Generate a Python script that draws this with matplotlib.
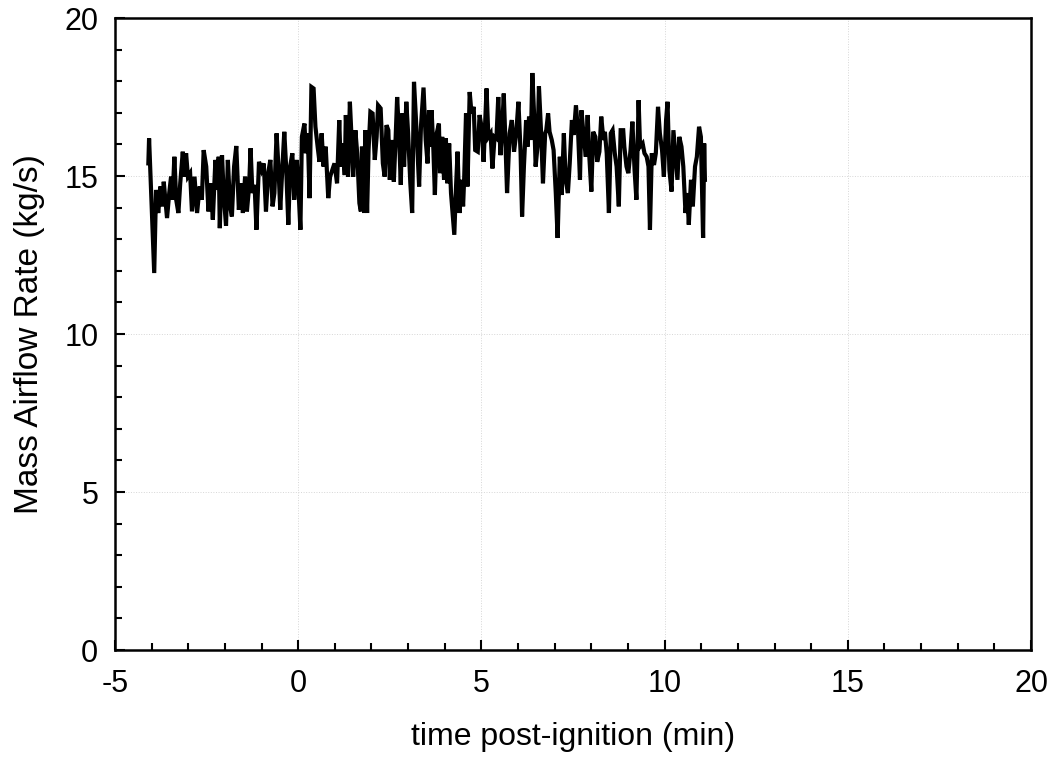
import matplotlib
matplotlib.use("Agg")
import matplotlib.pyplot as plt
from matplotlib.ticker import MultipleLocator

plt.rcParams['font.family'] = ['Liberation Sans', 'DejaVu Sans']
plt.rcParams['axes.unicode_minus'] = False

# time post-ignition (min)
time_min = [
    -4.09, -4.07, -4.00, -3.93, -3.88, -3.82, -3.76, -3.70, -3.67, -3.58,
    -3.52, -3.47, -3.43, -3.38, -3.33, -3.27, -3.22, -3.15, -3.11, -3.06,
    -3.01, -2.95, -2.90, -2.83, -2.76, -2.69, -2.63, -2.58, -2.51, -2.45,
    -2.39, -2.33, -2.26, -2.21, -2.17, -2.14, -2.08, -2.03, -1.97, -1.92,
    -1.86, -1.81, -1.75, -1.69, -1.62, -1.55, -1.51, -1.45, -1.40, -1.34,
    -1.30, -1.25, -1.19, -1.14, -1.07, -1.00, -0.94, -0.88, -0.82, -0.76,
    -0.70, -0.65, -0.59, -0.54, -0.49, -0.44, -0.38, -0.33, -0.27, -0.22,
    -0.16, -0.11, -0.04, 0.00, 0.06, 0.10, 0.17, 0.21, 0.26, 0.31,
    0.36, 0.42, 0.47, 0.53, 0.58, 0.64, 0.69, 0.75, 0.82, 0.87,
    0.93, 0.99, 1.06, 1.12, 1.16, 1.21, 1.27, 1.30, 1.36, 1.41,
    1.45, 1.50, 1.56, 1.61, 1.67, 1.71, 1.74, 1.80, 1.83, 1.88,
    1.92, 1.97, 2.03, 2.09, 2.14, 2.18, 2.25, 2.31, 2.36, 2.41,
    2.46, 2.50, 2.55, 2.61, 2.66, 2.70, 2.75, 2.80, 2.84, 2.89,
    2.95, 3.00, 3.06, 3.11, 3.16, 3.21, 3.25, 3.30, 3.35, 3.42,
    3.48, 3.53, 3.57, 3.62, 3.64, 3.69, 3.73, 3.78, 3.84, 3.87,
    3.93, 3.98, 4.03, 4.07, 4.12, 4.17, 4.22, 4.26, 4.30, 4.35,
    4.40, 4.46, 4.50, 4.53, 4.58, 4.62, 4.68, 4.73, 4.79, 4.83,
    4.90, 4.95, 5.01, 5.06, 5.14, 5.19, 5.25, 5.30, 5.36, 5.41,
    5.46, 5.52, 5.57, 5.61, 5.66, 5.70, 5.77, 5.83, 5.89, 5.95,
    6.01, 6.07, 6.11, 6.16, 6.22, 6.26, 6.30, 6.35, 6.39, 6.44,
    6.48, 6.53, 6.57, 6.63, 6.68, 6.74, 6.77, 6.82, 6.86, 6.92,
    6.97, 7.03, 7.08, 7.14, 7.19, 7.25, 7.30, 7.36, 7.41, 7.47,
    7.52, 7.58, 7.64, 7.69, 7.73, 7.80, 7.85, 7.90, 7.94, 8.00,
    8.05, 8.11, 8.16, 8.22, 8.27, 8.33, 8.37, 8.42, 8.48, 8.53,
    8.58, 8.64, 8.69, 8.75, 8.80, 8.87, 8.90, 8.96, 9.01, 9.07,
    9.12, 9.18, 9.23, 9.29, 9.33, 9.40, 9.45, 9.51, 9.56, 9.60,
    9.65, 9.71, 9.76, 9.82, 9.87, 9.93, 9.98, 10.04, 10.08, 10.13,
    10.19, 10.24, 10.29, 10.35, 10.40, 10.46, 10.51, 10.57, 10.62, 10.66,
    10.72, 10.77, 10.83, 10.88, 10.94, 10.99, 11.05, 11.08, 11.10,
]

# mass airflow rate (kg/s)
airflow = [
    15.40, 16.19, 14.04, 11.93, 14.56, 13.83, 14.67, 14.04, 14.82, 13.67,
    14.46, 14.98, 14.25, 15.61, 14.25, 13.83, 14.77, 15.77, 14.98, 15.72,
    14.98, 15.09, 13.88, 14.98, 13.83, 14.67, 14.25, 15.82, 15.30, 13.88,
    14.77, 13.62, 15.51, 14.56, 15.61, 13.35, 15.66, 14.35, 13.43, 15.51,
    14.04, 13.72, 15.30, 15.95, 13.93, 14.77, 13.83, 14.98, 13.88, 14.67,
    15.88, 14.46, 14.72, 13.30, 15.45, 15.19, 15.40, 13.88, 15.09, 15.51,
    14.04, 14.46, 16.35, 15.30, 13.93, 15.09, 16.40, 15.30, 13.46, 15.30,
    15.72, 14.25, 15.51, 14.77, 13.30, 16.24, 16.66, 15.72, 16.35, 14.30,
    17.82, 17.77, 16.56, 15.93, 15.45, 16.35, 15.30, 15.93, 14.30, 14.98,
    15.19, 15.40, 14.77, 16.77, 15.30, 16.03, 15.03, 16.93, 14.98, 17.35,
    16.35, 14.98, 16.45, 15.72, 14.14, 13.88, 15.93, 13.83, 16.45, 13.83,
    15.82, 17.03, 16.98, 15.51, 16.24, 17.24, 17.14, 15.40, 14.98, 16.61,
    16.45, 14.88, 16.14, 14.82, 16.24, 17.50, 16.35, 14.72, 16.98, 15.30,
    17.35, 16.35, 14.77, 13.83, 17.98, 16.88, 15.93, 14.67, 16.56, 17.80,
    16.14, 15.40, 17.08, 15.93, 17.08, 15.82, 14.40, 16.35, 16.66, 15.09,
    16.24, 14.88, 16.19, 14.77, 16.03, 14.46, 13.72, 13.14, 14.46, 15.77,
    13.83, 14.88, 14.04, 14.93, 16.98, 14.67, 17.66, 16.98, 17.19, 15.82,
    15.77, 16.93, 16.51, 15.45, 17.77, 16.24, 16.35, 15.24, 16.24, 16.19,
    17.50, 15.66, 16.56, 17.61, 15.93, 14.46, 16.35, 16.77, 15.77, 16.35,
    17.35, 15.72, 13.72, 15.30, 16.77, 15.93, 16.88, 16.14, 18.26, 16.88,
    15.30, 15.93, 17.84, 16.35, 14.77, 16.35, 16.45, 16.98, 16.40, 16.14,
    15.82, 14.46, 13.04, 15.61, 14.40, 16.35, 14.88, 14.46, 15.40, 16.77,
    16.30, 17.24, 16.35, 14.88, 17.08, 16.14, 15.61, 16.93, 15.72, 14.51,
    16.40, 16.24, 15.45, 15.77, 16.88, 16.14, 16.40, 15.72, 13.83, 16.35,
    16.45, 15.72, 15.30, 14.04, 16.45, 16.45, 15.93, 15.30, 15.09, 15.82,
    16.72, 15.19, 14.25, 17.40, 15.93, 16.03, 15.72, 15.61, 15.30, 13.30,
    15.72, 15.35, 15.72, 17.19, 16.35, 15.82, 14.98, 16.77, 17.35, 15.19,
    14.51, 16.45, 15.72, 14.88, 16.24, 15.93, 15.30, 13.83, 14.46, 13.46,
    14.88, 14.04, 15.30, 15.61, 16.56, 16.24, 13.04, 16.03, 14.88,
]

fig = plt.figure(figsize=(10.58, 7.57), dpi=100)
ax = fig.add_axes([0.1087, 0.1413, 0.8658, 0.8349])

ax.plot(time_min, airflow, color='black', linewidth=3.0, solid_joinstyle='miter')

ax.set_xlim(-5, 20)
ax.set_ylim(0, 20)
ax.xaxis.set_major_locator(MultipleLocator(5))
ax.xaxis.set_minor_locator(MultipleLocator(1))
ax.yaxis.set_major_locator(MultipleLocator(5))
ax.yaxis.set_minor_locator(MultipleLocator(1))
ax.tick_params(which='both', direction='in', top=False, right=False, width=1.5)
ax.tick_params(which='major', length=7, labelsize=22)
ax.tick_params(which='minor', length=5)
ax.tick_params(axis='x', which='major', pad=14)
ax.tick_params(axis='y', which='major', pad=12)

ax.grid(True, which='major', color='#d6d6d6', linestyle=':', linewidth=0.7)
ax.set_axisbelow(True)
for s in ax.spines.values():
    s.set_linewidth(1.8)

ax.set_xlabel('time post-ignition (min)', fontsize=23, labelpad=16)
ax.set_ylabel('Mass Airflow Rate (kg/s)', fontsize=24, labelpad=14)

fig.savefig('out.png', dpi=100)
